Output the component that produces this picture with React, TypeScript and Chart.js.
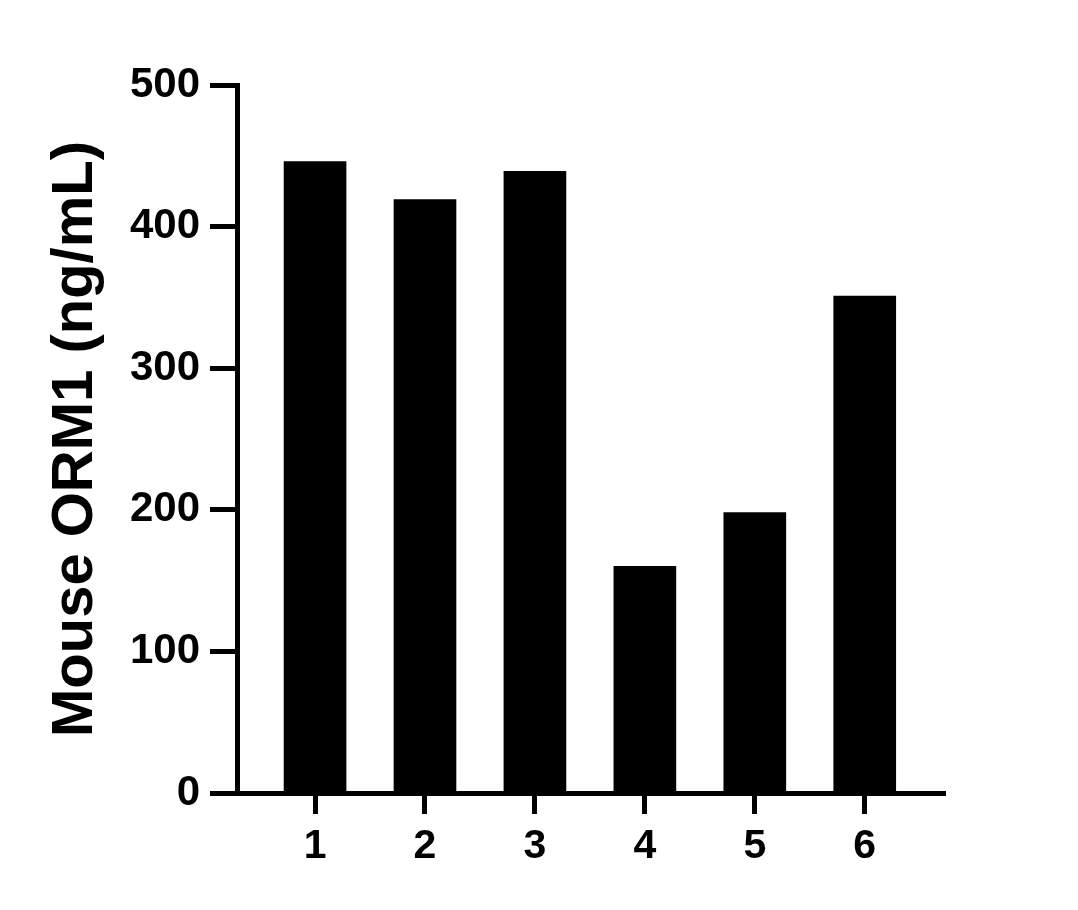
import { useEffect, useRef } from "react"
import { Chart, registerables } from "chart.js"

Chart.register(...registerables)

// sample numbers on the x axis and the measured concentrations
const samples = [1, 2, 3, 4, 5, 6]
const orm1Values = [446, 419, 439, 160, 198, 351]
const yTicks = [0, 100, 200, 300, 400, 500]

const FONT = "Arial, 'Liberation Sans', Helvetica, sans-serif"

export default function App() {
  const chartRef = useRef<HTMLCanvasElement>(null)
  const chartInstance = useRef<Chart | null>(null)

  useEffect(() => {
    if (!chartRef.current) return
    if (chartInstance.current) {
      chartInstance.current.destroy()
    }
    const ctx = chartRef.current.getContext("2d")
    if (!ctx) return

    chartInstance.current = new Chart(ctx, {
      type: "bar",
      data: {
        datasets: [
          {
            label: "Mouse ORM1",
            data: samples.map((s, i) => ({ x: s, y: orm1Values[i] })),
            backgroundColor: "#000",
            borderWidth: 0,
            barThickness: 62,
          },
        ],
      },
      options: {
        responsive: true,
        maintainAspectRatio: false,
        animation: false,
        layout: {
          padding: { top: 85, right: 133, bottom: 0, left: 0 },
        },
        plugins: {
          legend: { display: false },
          tooltip: { enabled: false },
        },
        scales: {
          x: {
            type: "linear",
            offset: false,
            min: 0.29,
            max: 6.73,
            afterBuildTicks: (scale) => {
              scale.ticks = samples.map((v) => ({ value: v }))
            },
            afterFit: (scale) => {
              scale.height = 117
            },
            border: { display: true, color: "#000", width: 5 },
            grid: {
              display: true,
              offset: false,
              drawOnChartArea: false,
              drawTicks: true,
              tickLength: 21,
              tickWidth: 5,
              tickColor: "#000",
            },
            ticks: {
              color: "#000",
              padding: 8,
              font: { family: FONT, size: 41, weight: "bold" },
              callback: (v) => String(v),
            },
          },
          y: {
            min: 0,
            max: 500,
            afterBuildTicks: (scale) => {
              scale.ticks = yTicks.map((v) => ({ value: v }))
            },
            afterFit: (scale) => {
              scale.width = 237
            },
            border: { display: true, color: "#000", width: 5 },
            grid: {
              display: true,
              drawOnChartArea: false,
              drawTicks: true,
              tickLength: 27,
              tickWidth: 5,
              tickColor: "#000",
            },
            ticks: {
              color: "#000",
              padding: 10,
              font: { family: FONT, size: 42, weight: "bold" },
            },
            title: {
              display: true,
              text: "Mouse ORM1 (ng/mL)",
              color: "#000",
              padding: { top: 41, bottom: 0 },
              font: { family: FONT, size: 58, weight: "bold" },
            },
          },
        },
      },
    })

    return () => {
      if (chartInstance.current) {
        chartInstance.current.destroy()
        chartInstance.current = null
      }
    }
  }, [])

  return (
    <div
      style={{
        position: "absolute",
        left: 0,
        top: 0,
        width: 1078,
        height: 910,
        background: "#fff",
      }}
    >
      <canvas ref={chartRef} />
    </div>
  )
}
